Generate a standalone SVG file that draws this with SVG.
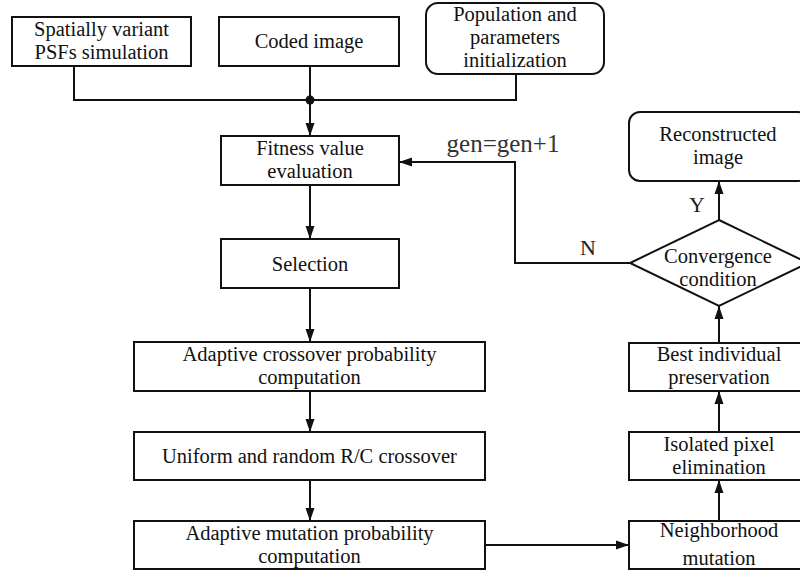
<svg xmlns="http://www.w3.org/2000/svg" width="800" height="573" viewBox="0 0 800 573">
<style>
.box{fill:#fff;stroke:#111;stroke-width:2}
.t{font-family:"Liberation Serif","Times New Roman",serif;font-size:20.5px;fill:#111;text-anchor:middle}
.lbl{font-family:"Liberation Serif","Times New Roman",serif;font-size:22px;fill:#222;text-anchor:middle}
.c{fill:none;stroke:#111;stroke-width:2}
.a{fill:none;stroke:#111;stroke-width:2;marker-end:url(#ah)}
</style>
<defs>
<marker id="ah" markerUnits="userSpaceOnUse" markerWidth="14" markerHeight="10" refX="13" refY="5" orient="auto">
<path d="M0,0.5 L13,5 L0,9.5 z" fill="#111"/>
</marker>
</defs>
<rect width="800" height="573" fill="#fff"/>
<g id="connectors">
<polyline class="c" points="74,66 74,100 516,100 516,74"/>
<line class="c" x1="310" y1="66" x2="310" y2="100"/>
<circle cx="310" cy="100" r="4.5" fill="#111"/>
<line class="a" x1="310" y1="100" x2="310" y2="136"/>
<line class="a" x1="310" y1="185" x2="310" y2="239"/>
<line class="a" x1="310" y1="288" x2="310" y2="342"/>
<line class="a" x1="310" y1="391" x2="310" y2="432"/>
<line class="a" x1="310" y1="480" x2="310" y2="521"/>
<line class="a" x1="485" y1="545" x2="629" y2="545"/>
<line class="a" x1="719" y1="521" x2="719" y2="480"/>
<line class="a" x1="719" y1="432" x2="719" y2="391"/>
<line class="a" x1="719" y1="343" x2="719" y2="306"/>
<line class="a" x1="719" y1="220" x2="719" y2="181"/>
<polyline class="a" points="630,263 515,263 515,162 399,162"/>
<text class="lbl" x="503" y="152" style="font-size:25px;fill:#333">gen=gen+1</text>
<text class="lbl" x="697" y="212">Y</text>
<text class="lbl" x="588" y="255">N</text>
</g>
<g id="n-psf">
<rect class="box" x="12" y="17" width="179" height="49"/>
<text class="t" x="101.5" y="36">Spatially variant</text>
<text class="t" x="101.5" y="59">PSFs simulation</text>
</g>
<g id="n-coded">
<rect class="box" x="219" y="17" width="180" height="49"/>
<text class="t" x="309" y="48">Coded image</text>
</g>
<g id="n-pop">
<rect class="box" x="426" y="3" width="178" height="71" rx="12"/>
<text class="t" x="515" y="21">Population and</text>
<text class="t" x="515" y="44">parameters</text>
<text class="t" x="515" y="67">initialization</text>
</g>
<g id="n-fitness">
<rect class="box" x="221" y="136" width="178" height="49"/>
<text class="t" x="310" y="155">Fitness value</text>
<text class="t" x="310" y="178">evaluation</text>
</g>
<g id="n-selection">
<rect class="box" x="221" y="239" width="178" height="49"/>
<text class="t" x="310" y="270.5">Selection</text>
</g>
<g id="n-acp">
<rect class="box" x="134" y="342" width="351" height="49"/>
<text class="t" x="309.5" y="361">Adaptive crossover probability</text>
<text class="t" x="309.5" y="384">computation</text>
</g>
<g id="n-uniform">
<rect class="box" x="134" y="432" width="351" height="48"/>
<text class="t" x="309.5" y="463">Uniform and random R/C crossover</text>
</g>
<g id="n-amp">
<rect class="box" x="134" y="521" width="351" height="48"/>
<text class="t" x="309.5" y="539.5">Adaptive mutation probability</text>
<text class="t" x="309.5" y="562.5">computation</text>
</g>
<g id="n-neigh">
<rect class="box" x="629" y="521" width="180" height="48"/>
<text class="t" x="719" y="537">Neighborhood</text>
<text class="t" x="719" y="565">mutation</text>
</g>
<g id="n-isolated">
<rect class="box" x="629" y="432" width="180" height="48"/>
<text class="t" x="719" y="450.5">Isolated pixel</text>
<text class="t" x="719" y="473.5">elimination</text>
</g>
<g id="n-best">
<rect class="box" x="629" y="343" width="180" height="48"/>
<text class="t" x="719" y="361">Best individual</text>
<text class="t" x="719" y="384">preservation</text>
</g>
<g id="n-conv">
<polygon class="box" points="719,220 808,263 719,306 630,263"/>
<text class="t" x="718" y="263">Convergence</text>
<text class="t" x="718" y="286">condition</text>
</g>
<g id="n-recon">
<rect class="box" x="629" y="112" width="180" height="69" rx="11"/>
<text class="t" x="718" y="141">Reconstructed</text>
<text class="t" x="718" y="164">image</text>
</g>
</svg>
